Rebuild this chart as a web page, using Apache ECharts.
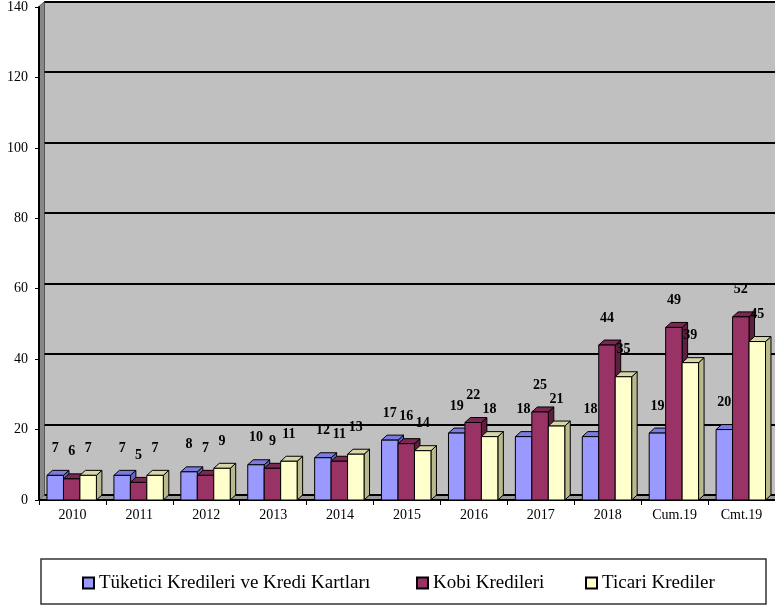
<!DOCTYPE html>
<html>
<head>
<meta charset="utf-8">
<script src="https://cdn.jsdelivr.net/npm/echarts@6/dist/echarts.min.js"></script>
<style>
html,body{margin:0;padding:0;background:#fff;}
#chart{width:775px;height:608px;}
</style>
</head>
<body>
<div id="chart"></div>
<script>
var categories = ['2010','2011','2012','2013','2014','2015','2016','2017','2018','Cum.19','Cmt.19'];
var seriesNames = ['Tüketici Kredileri ve Kredi Kartları','Kobi Kredileri','Ticari Krediler'];
var tuketici = [7,7,8,10,12,17,19,18,18,19,20];
var kobi = [6,5,7,9,11,16,22,25,44,49,52];
var ticari = [7,7,9,11,13,14,18,21,35,39,45];
var yTicks = [0,20,40,60,80,100,120,140];

var FONT = "'Liberation Serif','Times New Roman',serif";
var faceColors = [
  {front:'#9999FF', top:'#7C7CE0', side:'#6565C0'},
  {front:'#993366', top:'#7A2852', side:'#5E1E3E'},
  {front:'#FFFFCC', top:'#D6D6A8', side:'#B9B98E'}
];

function makeRender(si){
  return function(params, api){
    var cat = api.value(0), val = api.value(1);
    var base = api.coord([cat, 0]);
    var top = api.coord([cat, val]);
    var bw = api.size([1, 0])[0];
    var w = bw * 0.246;
    var x0 = base[0] - 1.5 * w - 0.75 + si * w;
    var x1 = x0 + w;
    var yb = base[1], yt = top[1];
    var dx = 5.5, dy = 5;
    var c = faceColors[si];
    return {
      type:'group',
      children:[
        {type:'polygon', shape:{points:[[x1,yt],[x1+dx,yt-dy],[x1+dx,yb-dy],[x1,yb]]},
         style:{fill:c.side, stroke:'#000', lineWidth:1}},
        {type:'polygon', shape:{points:[[x0,yt],[x0+dx,yt-dy],[x1+dx,yt-dy],[x1,yt]]},
         style:{fill:c.top, stroke:'#000', lineWidth:1}},
        {type:'rect', shape:{x:x0, y:yt, width:w, height:yb-yt},
         style:{fill:c.front, stroke:'#000', lineWidth:1}},
        {type:'text', z2:100, style:{text:String(val), x:(x0+x1)/2, y:yt-27,
          textAlign:'center', textVerticalAlign:'middle',
          font:'bold 14px ' + FONT, fill:'#000'}}
      ]
    };
  };
}

function toData(arr){ return arr.map(function(v,i){ return [i, v]; }); }
var allData = [tuketici, kobi, ticari];
var legendLefts = [82, 416, 585];

var chart = echarts.init(document.getElementById('chart'), null, {renderer:'canvas'});
var option = {
  animation:false,
  backgroundColor:'#ffffff',
  graphic:[
    {type:'polygon', z:0, silent:true, shape:{points:[[39,6.5],[44.5,1.5],[44.5,495],[39,500]]},
     style:{fill:'#888888', stroke:'#555', lineWidth:1}},
    {type:'polygon', z:0, silent:true, shape:{points:[[39,500],[44.5,495],[780,495],[780,500]]},
     style:{fill:'#9A9A9A', stroke:'#666', lineWidth:0.5}},
    {type:'rect', z:0, silent:true, shape:{x:41, y:559, width:725, height:45},
     style:{fill:'#fff', stroke:'#333', lineWidth:1.5}}
  ],
  grid:[
    {left:44.5, right:-6.5, top:1.5, bottom:113, show:true, backgroundColor:'#C0C0C0', borderWidth:0},
    {left:39, right:-1, top:6.5, bottom:108}
  ],
  xAxis:[
    {gridIndex:0, type:'category', data:categories, show:false},
    {gridIndex:1, type:'category', data:categories,
     axisLine:{lineStyle:{color:'#000', width:2}},
     axisTick:{show:true, length:5, lineStyle:{color:'#000', width:1}},
     axisLabel:{color:'#000', fontFamily:FONT, fontSize:14, margin:8},
     splitLine:{show:false}}
  ],
  yAxis:[
    {gridIndex:0, type:'value', min:0, max:140, interval:20,
     axisLine:{show:false}, axisTick:{show:false}, axisLabel:{show:false},
     splitLine:{show:true, lineStyle:{color:'#000', width:2}}},
    {gridIndex:1, type:'value', min:0, max:140, interval:20,
     axisLine:{show:true, lineStyle:{color:'#000', width:2}},
     axisTick:{show:true, length:4, lineStyle:{color:'#000'}},
     axisLabel:{color:'#000', fontFamily:FONT, fontSize:14, margin:11},
     splitLine:{show:false}}
  ],
  legend: seriesNames.map(function(n, i){
    return {
      left:legendLefts[i], top:573, padding:0, itemWidth:11, itemHeight:11,
      icon:'rect',
      itemStyle:{borderColor:'#000', borderWidth:2},
      textStyle:{color:'#000', fontFamily:FONT, fontSize:19, lineHeight:20},
      data:[n]
    };
  }),
  series: allData.map(function(arr, si){
    return {
      name:seriesNames[si], type:'custom', xAxisIndex:1, yAxisIndex:1,
      renderItem:makeRender(si),
      itemStyle:{color:faceColors[si].front},
      encode:{x:0, y:1},
      data:toData(arr),
      z:2
    };
  })
};
chart.setOption(option);
</script>
</body>
</html>
